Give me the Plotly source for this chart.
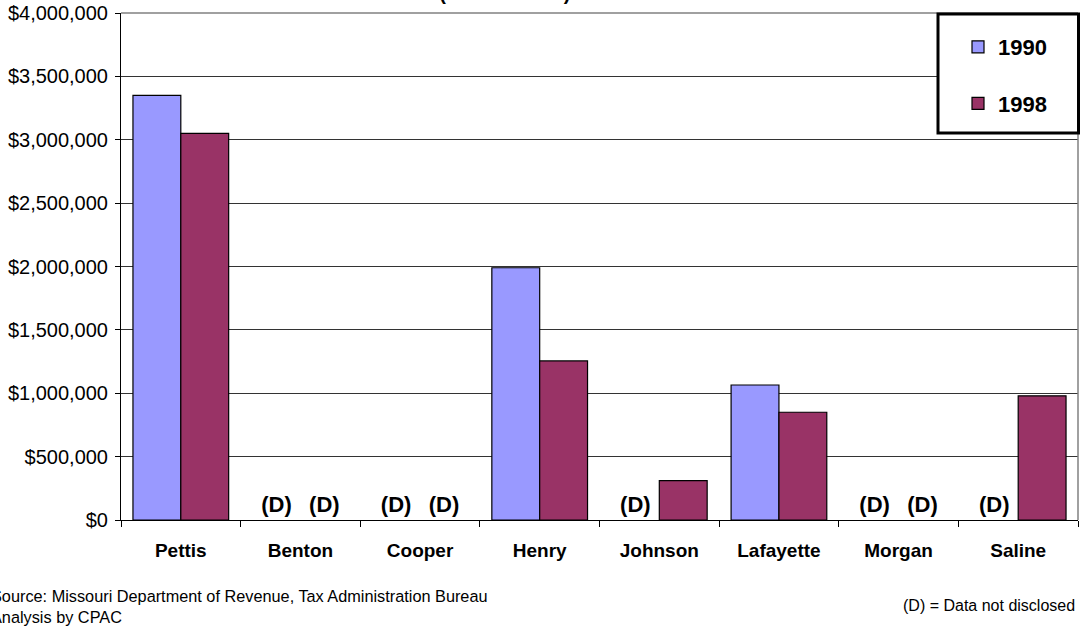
import plotly.graph_objects as go

counties = ["Pettis", "Benton", "Cooper", "Henry", "Johnson", "Lafayette", "Morgan", "Saline"]
# None = data not disclosed
sales_1990 = [3350000, None, None, 1990000, None, 1065000, None, None]
sales_1998 = [3050000, None, None, 1255000, 310000, 850000, None, 980000]
y_ticks = [0, 500000, 1000000, 1500000, 2000000, 2500000, 3000000, 3500000, 4000000]

FONT = "Arial, Liberation Sans, sans-serif"
W, H = 1080, 635
ML, MR, MT, MB = 121, 2, 13, 115
PW, PH = W - ML - MR, H - MT - MB


def px_x(x):
    return (x - ML) / PW


def px_y(y):
    return (H - MB - y) / PH


def bar_trace(name, vals, color):
    return go.Bar(
        name=name,
        x=counties,
        y=[v if v is not None else 0 for v in vals],
        text=["(D)" if v is None else "" for v in vals],
        textposition="outside",
        textfont=dict(family=FONT, size=22, color="black", weight="bold"),
        cliponaxis=False,
        marker=dict(color=color,
                    line=dict(color="black",
                              width=[0 if v is None else 1.2 for v in vals])),
        legendgroup=name,
        hoverinfo="x+y+name",
    )


fig = go.Figure()
fig.add_trace(bar_trace("1990", sales_1990, "#9999FF"))
fig.add_trace(bar_trace("1998", sales_1998, "#993366"))

fig.update_layout(
    width=W,
    height=H,
    margin=dict(l=ML, r=MR, t=MT, b=MB),
    paper_bgcolor="white",
    plot_bgcolor="white",
    barmode="group",
    bargap=0.2,
    bargroupgap=0,
    font=dict(family=FONT, color="black"),
    showlegend=True,
    legend=dict(
        x=px_x(958), y=px_y(26), xanchor="left", yanchor="top",
        bgcolor="rgba(0,0,0,0)", borderwidth=0,
        font=dict(family=FONT, size=22, color="black", weight="bold"),
        tracegroupgap=25, traceorder="grouped",
        itemwidth=30,
    ),
    xaxis=dict(
        showline=True, linecolor="black", linewidth=1,
        ticks="outside", ticklen=6, tickcolor="black",
        tickson="boundaries",
        tickfont=dict(family=FONT, size=19, color="black", weight="bold"),
        ticklabelstandoff=13,
        showgrid=False,
    ),
    yaxis=dict(
        range=[0, 4000000],
        tickvals=y_ticks,
        tickformat="$,.0f",
        showline=True, linecolor="black", linewidth=1,
        ticks="outside", ticklen=5, tickcolor="black",
        tickfont=dict(family=FONT, size=20, color="black"),
        ticklabelstandoff=3,
        showgrid=True, gridcolor="#333333", gridwidth=1,
        zeroline=False,
    ),
)

# plot-area frame (top and right edges)
fig.add_shape(type="line", xref="paper", yref="paper", x0=0, x1=1, y0=1, y1=1,
              line=dict(color="#808080", width=1.5))
fig.add_shape(type="line", xref="paper", yref="paper", x0=1, x1=1, y0=0, y1=1,
              line=dict(color="#808080", width=1.5))

# legend box
fig.add_shape(type="rect", xref="paper", yref="paper",
              x0=px_x(938), x1=px_x(1078.5), y0=px_y(133), y1=px_y(14),
              line=dict(color="black", width=3), fillcolor="white", layer="above")

# chart title (mostly above the page edge)
fig.add_annotation(text="1990 and 1998 (1998 Dollars)", xref="paper", yref="paper",
                   x=px_x(434), y=px_y(5.5), xanchor="center", yanchor="bottom",
                   showarrow=False,
                   font=dict(family=FONT, size=20, color="black", weight="bold"))

# footnotes
fig.add_annotation(text="Source: Missouri Department of Revenue, Tax Administration Bureau<br>Analysis by CPAC",
                   xref="paper", yref="paper", x=px_x(-11), y=px_y(585),
                   xanchor="left", yanchor="top", align="left", showarrow=False,
                   font=dict(family=FONT, size=16.3, color="black"))
fig.add_annotation(text="(D) = Data not disclosed", xref="paper", yref="paper",
                   x=px_x(1077), y=px_y(605), xanchor="right", yanchor="middle",
                   showarrow=False, font=dict(family=FONT, size=16, color="black"))

fig.write_html("out.html")
